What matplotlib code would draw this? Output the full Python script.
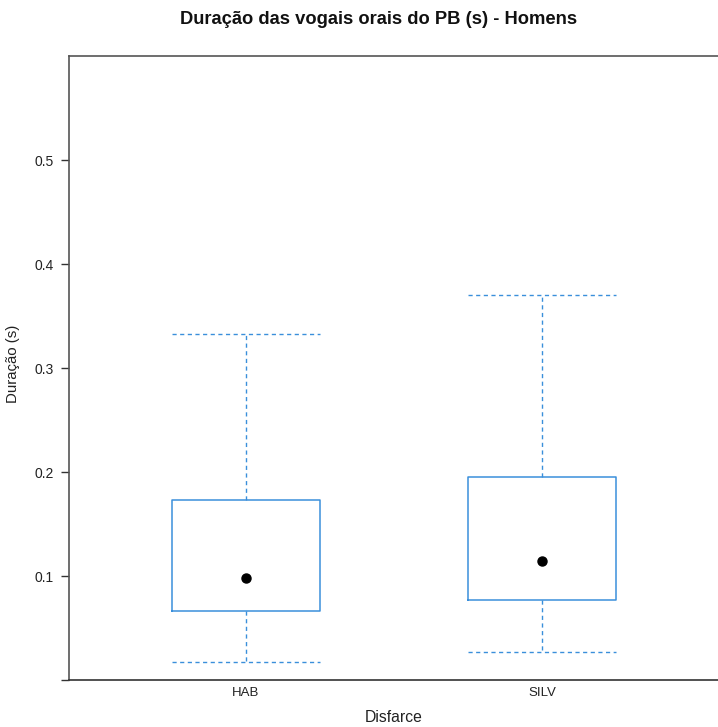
import matplotlib
matplotlib.use("Agg")
import matplotlib.pyplot as plt

# Data
categories = ["HAB", "SILV"]
whislo = [0.0173, 0.0269]
q1 = [0.0663, 0.0770]
med = [0.0980, 0.1144]
q3 = [0.1730, 0.1950]
whishi = [0.3327, 0.3700]
yticks = [0.0, 0.1, 0.2, 0.3, 0.4, 0.5]
ytick_labels = ["", "0.1", "0.2", "0.3", "0.4", "0.5"]

plt.rcParams['font.family'] = ['Liberation Sans', 'DejaVu Sans']

W, H = 718, 727
fig = plt.figure(figsize=(W / 100, H / 100), dpi=100)
left, right, top, bottom = 69, 719, 56, 680
ax = fig.add_axes([left / W, (H - bottom) / H, (right - left) / W, (bottom - top) / H])

blue = '#3a8fdb'
positions = list(range(1, len(categories) + 1))
stats = []
for i, c in enumerate(categories):
    stats.append(dict(label=c, whislo=whislo[i], q1=q1[i], med=med[i],
                      q3=q3[i], whishi=whishi[i], fliers=[]))

ax.bxp(stats, positions=positions, widths=0.5, capwidths=0.5,
       boxprops=dict(color=blue, linewidth=1.1),
       whiskerprops=dict(color=blue, linewidth=1.0, linestyle=(0, (3, 2.5))),
       capprops=dict(color=blue, linewidth=1.0, linestyle=(0, (3, 2.5))),
       medianprops=dict(visible=False),
       showfliers=False)
ax.plot(positions, med, 'o', color='black', markersize=6.5, linestyle='none', zorder=5)

ax.set_xlim(0.402, 2.598)
ax.set_ylim(0, 0.6)
ax.set_xticks(positions)
ax.set_xticklabels(categories, fontsize=9.5, color='#222222')
ax.tick_params(axis='x', length=0, pad=5)
ax.set_yticks(yticks)
ax.set_yticklabels(ytick_labels, fontsize=10, color='#222222')
ax.tick_params(axis='y', length=5.8, width=1.0, color='#333333', pad=5)

for s in ['left', 'top', 'right']:
    ax.spines[s].set_color('#555555')
    ax.spines[s].set_linewidth(1.2)
ax.spines['bottom'].set_color('#333333')
ax.spines['bottom'].set_linewidth(1.2)

fig.text(378.5 / W, 1 - 20 / H, "Duração das vogais orais do PB (s) - Homens",
         ha='center', va='center', fontsize=13.2, fontweight='bold', color='#111111')
fig.text(393.5 / W, 1 - 717.5 / H, "Disfarce", ha='center', va='center',
         fontsize=11.3, color='#222222')
fig.text(13.5 / W, 1 - 364 / H, "Duração (s)", ha='center', va='center',
         rotation=90, fontsize=10.8, color='#222222')

fig.savefig("out.png", dpi=100)
